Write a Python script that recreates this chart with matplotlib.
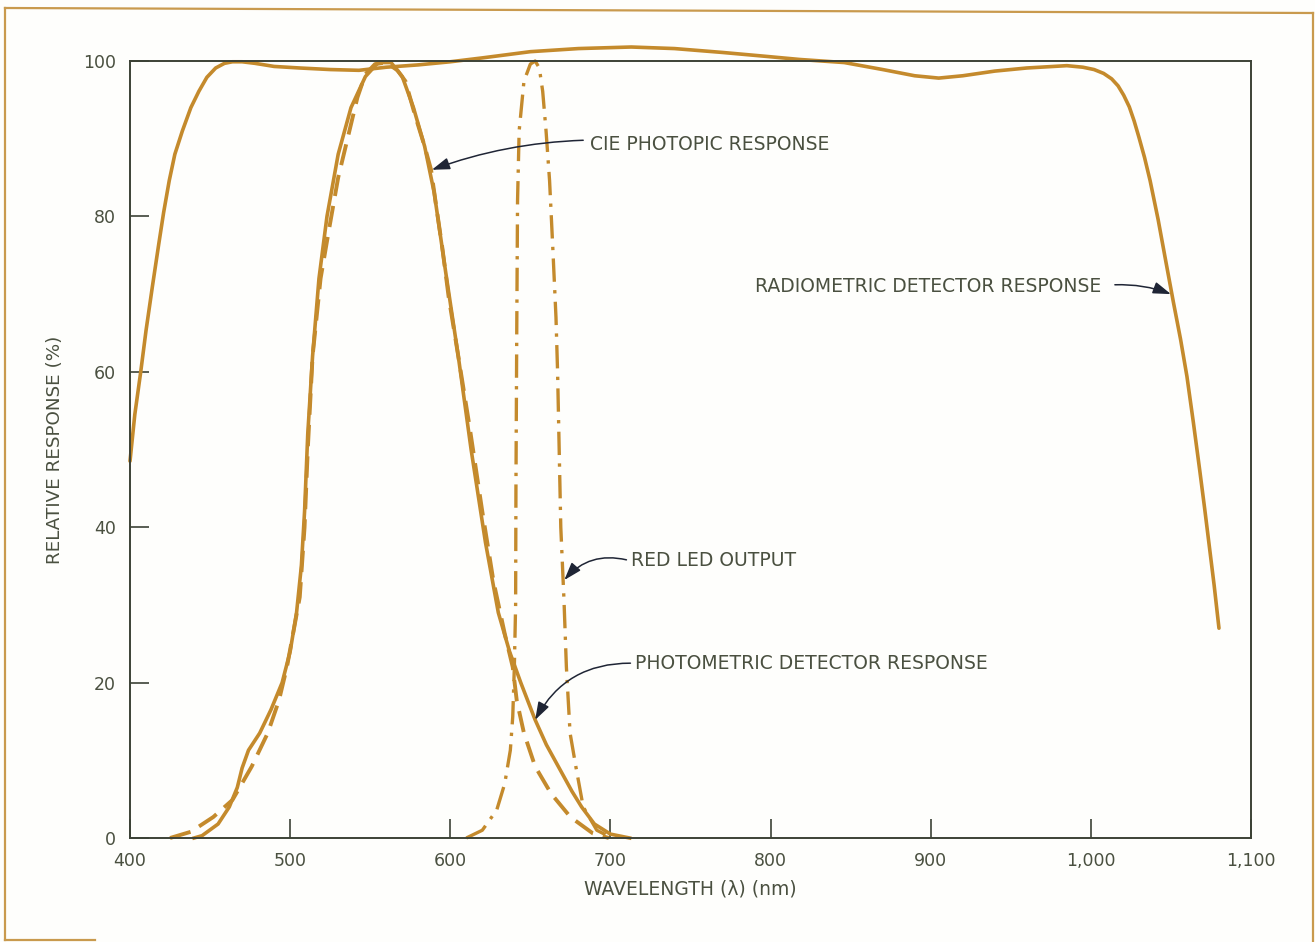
import matplotlib
matplotlib.use("Agg")
import matplotlib.pyplot as plt
from matplotlib.lines import Line2D
from matplotlib.ticker import FuncFormatter

# radiometric detector response (solid, wide band)
radio_nm = [400, 403, 406.7, 410, 414, 418, 421, 424.5, 428, 432.7, 438, 443, 448,
            453.5, 459, 464, 470, 478, 490, 506, 525, 543, 560, 580, 600, 620, 650,
            680, 713, 740, 770, 797, 818, 846, 870, 890, 905, 920, 940, 960, 985,
            995, 1002, 1008, 1013, 1017, 1020.5, 1024, 1027, 1030, 1033.5, 1037,
            1042, 1047, 1051.5, 1056, 1060, 1064, 1068, 1071, 1074, 1077, 1080]
radio_pct = [48.5, 54.5, 60, 65.3, 71, 76.5, 80.5, 84.6, 88, 91, 94, 96.1, 97.9,
             99.1, 99.7, 99.9, 99.9, 99.7, 99.3, 99.1, 98.9, 98.8, 99.2, 99.5, 99.9,
             100.4, 101.2, 101.6, 101.8, 101.6, 101.1, 100.6, 100.2, 99.8, 98.9,
             98.1, 97.8, 98.1, 98.7, 99.1, 99.4, 99.2, 98.9, 98.4, 97.7, 96.8, 95.6,
             94.1, 92.3, 90.2, 87.6, 84.6, 79.6, 74, 69, 64.2, 59.4, 53.5, 47.3,
             42.5, 37.5, 32.5, 27]

# photometric detector response (solid)
photo_nm = [440, 445, 455, 462, 467, 470, 474, 481, 488, 495, 500, 504, 507, 509,
            511, 514, 518, 523, 530, 538, 547, 555, 563, 570, 577, 584, 590, 597,
            605, 613, 622, 630, 637, 644, 653, 660, 668, 676, 682, 690, 700, 712]
photo_pct = [0, 0.3, 1.8, 4, 6.5, 9, 11.3, 13.5, 16.5, 20, 24, 29, 35, 42,
             52, 62, 72, 80, 88, 94, 98, 99.8, 99.8, 98, 94, 89, 83, 73,
             62, 50, 38, 29, 24, 20, 15.2, 12, 9, 6, 4, 1.8, 0.5, 0]

# CIE photopic response (dashed)
cie_nm = [425, 438, 452, 464, 476, 486, 493, 498, 502, 506, 509, 511, 514, 519,
          524, 530, 537, 542, 547, 553, 560, 567, 572, 578, 584, 588, 591, 595,
          599, 605, 612, 620, 627, 634, 639, 641.5, 646, 653, 663, 675, 689, 699]
cie_pct = [0, 0.8, 2.7, 4.9, 9.2, 13.5, 17.7, 22, 26.5, 31, 40, 50, 62, 72,
           78, 85, 91, 95.3, 98.3, 99.6, 99.8, 98.8, 97.4, 93, 89, 86, 81.6, 76,
           69.6, 62, 53, 42, 33, 26.3, 22, 17.7, 13.5, 9.2, 5.7, 2.7, 0.6, 0]

# red LED output (dash-dot)
led_nm = [610, 620, 629, 634, 637.5, 639, 640, 640.8, 641, 641.5, 642, 643, 646,
          650, 653, 655.6, 657.7, 659.8, 662, 664, 666, 667, 668, 669, 671, 672.5,
          674.8, 678.4, 683, 691.5, 701]
led_pct = [0, 1, 3.6, 7, 11.3, 15.6, 22, 30, 45, 65, 82, 91, 97.4,
           99.6, 100, 99.1, 96.1, 91, 84.6, 76, 67, 60, 50, 40, 30.6, 22,
           13.5, 9.2, 4, 1, 0]

x_ticks = [400, 500, 600, 700, 800, 900, 1000, 1100]
y_ticks = [0, 20, 40, 60, 80, 100]

curve = "#c48a2c"
ink = "#4a5040"
axis_col = "#3c4236"
arrow_col = "#1f2535"

plt.rcParams["font.family"] = ["DejaVu Sans"]
plt.rcParams["font.size"] = 12

fig = plt.figure(figsize=(13.15, 9.42), dpi=100)
fig.patch.set_facecolor("#fefefc")
ax = fig.add_axes([130 / 1315, 1 - 838 / 942, 1121 / 1315, 777 / 942])
ax.set_facecolor("#fefefc")

ax.plot(radio_nm, radio_pct, color=curve, lw=2.6, clip_on=False, solid_capstyle="round")
ax.plot(photo_nm, photo_pct, color=curve, lw=2.6, clip_on=False)
ax.plot(cie_nm, cie_pct, color=curve, lw=2.8, dashes=(5.5, 2.6), clip_on=False)
ax.plot(led_nm, led_pct, color=curve, lw=2.4, dashes=(7, 2.5, 1, 2.5), clip_on=False)

ax.set_xlim(400, 1100)
ax.set_ylim(0, 100)
ax.set_xticks(x_ticks)
ax.set_yticks(y_ticks)
ax.xaxis.set_major_formatter(FuncFormatter(lambda v, _: f"{v:,.0f}"))
ax.tick_params(direction="in", length=14, width=1.2, color=axis_col,
               labelcolor=ink, labelsize=12.5)
ax.tick_params(axis="x", pad=10)
ax.tick_params(axis="y", pad=10)
for s in ax.spines.values():
    s.set_color(axis_col)
    s.set_linewidth(1.4)

ax.set_xlabel("WAVELENGTH (λ) (nm)", color=ink, fontsize=13.5, labelpad=7)
ax.set_ylabel("RELATIVE RESPONSE (%)", color=ink, fontsize=13.2, labelpad=14)

fs = 13.5
arrow = dict(arrowstyle="-|>,head_length=0.9,head_width=0.3", color=arrow_col, lw=1.1,
             shrinkA=0, shrinkB=0)

# labels
ax.text(687, 89.2, "CIE PHOTOPIC RESPONSE", color=ink, fontsize=fs, va="center")
ax.text(790, 71, "RADIOMETRIC DETECTOR RESPONSE", color=ink, fontsize=fs, va="center")
ax.text(713, 35.7, "RED LED OUTPUT", color=ink, fontsize=fs, va="center")
ax.text(715.5, 22.5, "PHOTOMETRIC DETECTOR RESPONSE", color=ink, fontsize=fs, va="center")

# leader arrows
ax.annotate("", xy=(588.5, 86), xytext=(683, 89.8),
            arrowprops=dict(arrow, connectionstyle="arc3,rad=0.08"))
ax.annotate("", xy=(1050, 70), xytext=(1015, 71.2),
            arrowprops=dict(arrow, connectionstyle="arc3,rad=-0.1"))
ax.annotate("", xy=(671.2, 33.2), xytext=(710, 35.8),
            arrowprops=dict(arrow, connectionstyle="arc3,rad=0.3"))
ax.annotate("", xy=(653, 15.2), xytext=(712.5, 22.5),
            arrowprops=dict(arrow, connectionstyle="arc3,rad=0.3"))

# page frame
frame = "#c99a4e"
W, H = 1315, 942
for (x0, y0, x1, y1) in [(5, 8, 1313, 13), (5, 8, 5, 940), (1313, 13, 1313, 942),
                         (5, 940, 95, 940)]:
    fig.add_artist(Line2D([x0 / W, x1 / W], [1 - y0 / H, 1 - y1 / H],
                          color=frame, lw=1.6))

fig.savefig("out.png", dpi=100, facecolor=fig.get_facecolor())
